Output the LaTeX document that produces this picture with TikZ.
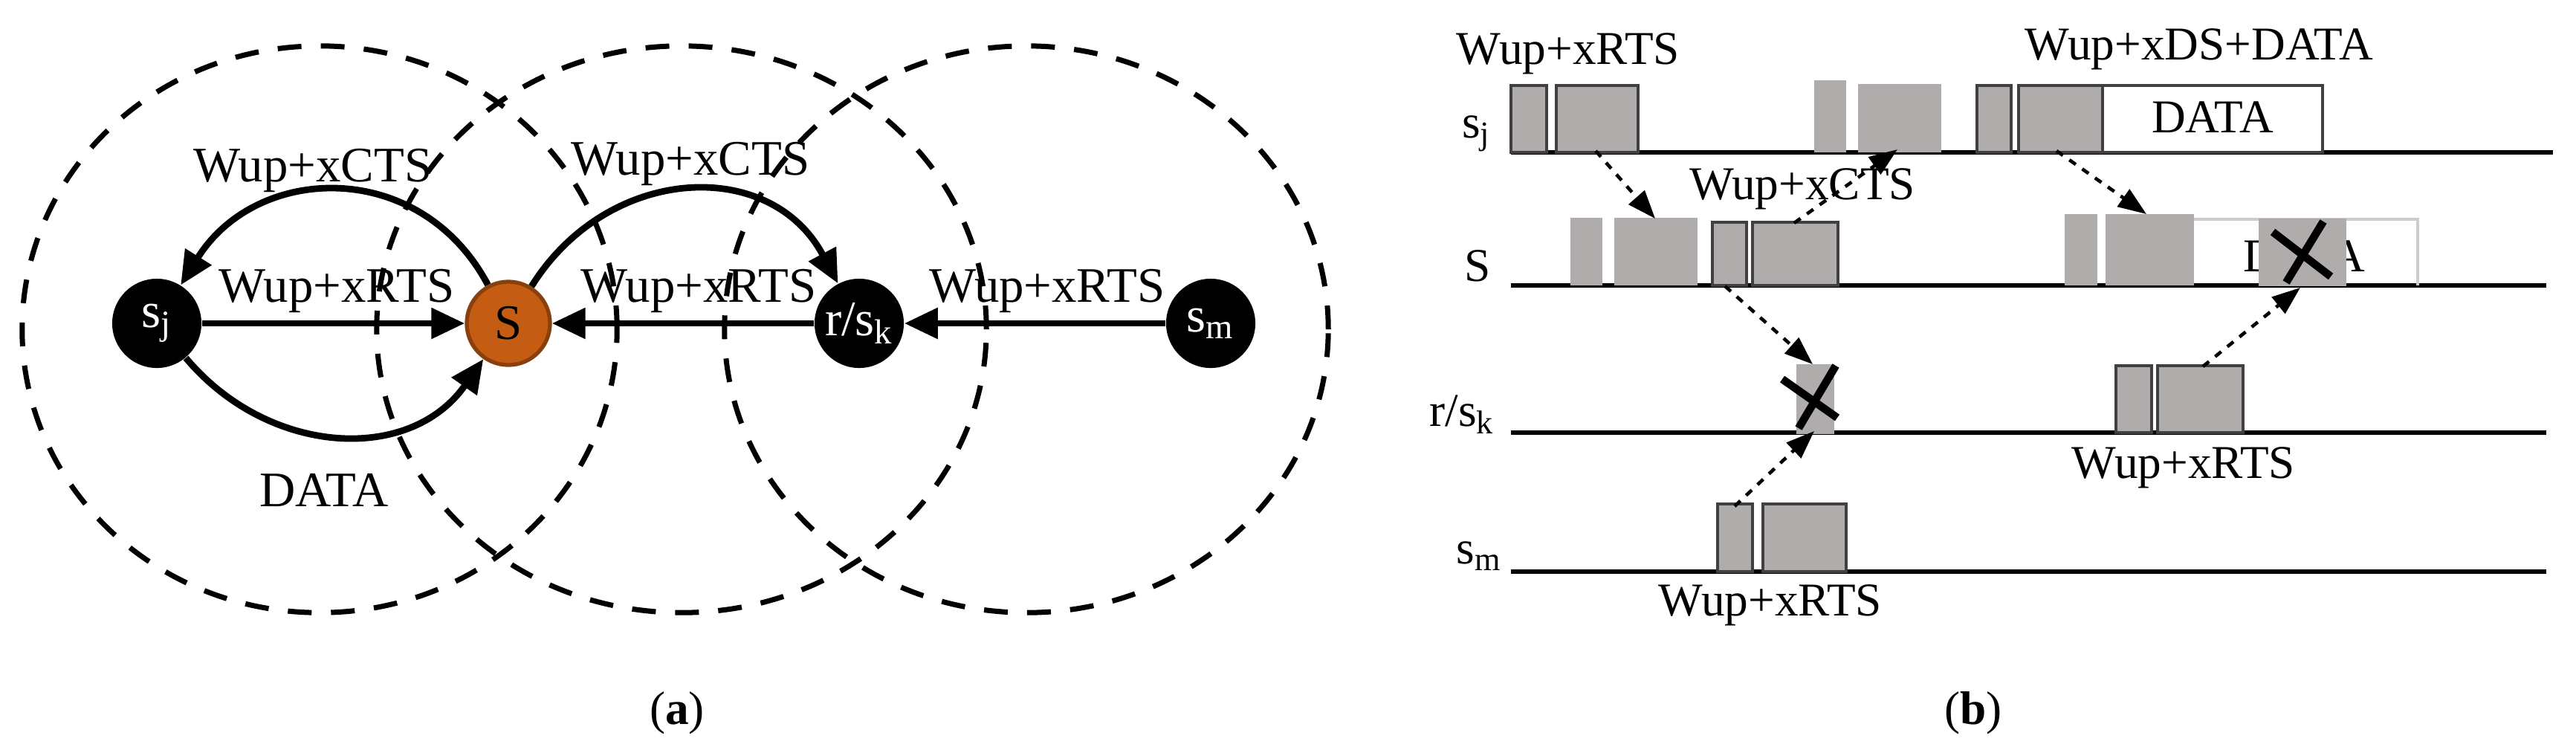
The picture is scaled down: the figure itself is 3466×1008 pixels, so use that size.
\documentclass[tikz,border=0pt]{standalone}
\usepackage{fontspec}
\setmainfont{Liberation Serif}
\usetikzlibrary{arrows.meta}
\definecolor{slotgray}{HTML}{B0ACAB}
\definecolor{nodeorange}{HTML}{C45C13}
\tikzset{
  station/.style={circle,fill=black,text=white,minimum size=1.2cm,inner sep=0pt},
  cover/.style={line width=0.7mm,dash pattern=on 3.2mm off 2.6mm},
  link/.style={line width=2.5pt,-{Triangle[length=0.45cm,width=0.4cm]}},
  msg/.style={dashed,line width=1.3pt,-{Triangle[length=0.38cm,width=0.28cm]}},
  slot/.style={fill=slotgray,draw=black!75,line width=1.2pt},
  bare/.style={fill=slotgray},
  txt/.style={font=\fontsize{18pt}{20pt}\selectfont,inner sep=1pt},
  lane/.style={line width=1.6pt},
  cross/.style={line width=3pt},
}
\begin{document}
\begin{tikzpicture}[x=0.01cm,y=-0.01cm]
\useasboundingbox (0,0) rectangle (3466,1008);
% ranges
\draw[cover] (430,443) ellipse (4cm and 3.81cm);
\draw[cover] (917,443) ellipse (4.1cm and 3.81cm);
\draw[cover] (1381,443) ellipse (4.06cm and 3.81cm);
% stations
\node[station] (sj) at (211,435) {\fontsize{19pt}{20pt}\selectfont s\textsubscript{j}};
\node[station,fill=nodeorange,draw=nodeorange!70!black,line width=1.5pt,text=black,minimum size=1.12cm] (s) at (684,435) {\fontsize{19pt}{20pt}\selectfont S};
\node[station] (rsk) at (1156,435) {\fontsize{19pt}{20pt}\selectfont r/s\textsubscript{k}};
\node[station] (sm) at (1629,435) {\fontsize{19pt}{20pt}\selectfont s\textsubscript{m}};
% links
\draw[link] (sj) -- (s);
\draw[link] (rsk) -- (s);
\draw[link] (sm) -- (rsk);
\draw[link] (s) to[out=118,in=58,looseness=1.2] (sj);
\draw[link] (sj) to[out=-50,in=-125,looseness=1.1] (s);
\draw[link] (s) to[out=58,in=118,looseness=1.2] (rsk);
% labels
\node[txt,font=\fontsize{19pt}{20pt}\selectfont] (ctsa) at (421,229) {Wup+xCTS};
\node[txt,font=\fontsize{19pt}{20pt}\selectfont] (ctsb) at (929,220) {Wup+xCTS};
\node[txt,font=\fontsize{19pt}{20pt}\selectfont] (rtsa) at (453,391) {Wup+xRTS};
\node[txt,font=\fontsize{19pt}{20pt}\selectfont] (rtsb) at (940,391) {Wup+xRTS};
\node[txt,font=\fontsize{19pt}{20pt}\selectfont] (rtsc) at (1409,391) {Wup+xRTS};
\node[txt,font=\fontsize{19pt}{20pt}\selectfont] (data) at (436,659) {DATA};
\node[txt] (capa) at (911,959) {(\textbf{a})};
\node[txt] (capb) at (2655,959) {(\textbf{b})};
% lanes
\draw[lane] (2033,205) -- (3435,205);
\draw[lane] (2033,384) -- (3426,384);
\draw[lane] (2033,582) -- (3426,582);
\draw[lane] (2033,769) -- (3426,769);
\node[txt,anchor=east] (lj) at (2010,180) {s\textsubscript{j}};
\node[txt,anchor=east] (ls) at (2010,358) {S};
\node[txt,anchor=east] (lk) at (2015,558) {r/s\textsubscript{k}};
\node[txt,anchor=east] (lm) at (2025,748) {s\textsubscript{m}};
% slots on s_j
\draw[slot] (2033,115) rectangle (2081,205);
\draw[slot] (2094,115) rectangle (2204,205);
\fill[bare] (2441,108) rectangle (2484,205);
\fill[bare] (2500,113) rectangle (2612,205);
\draw[slot] (2660,115) rectangle (2706,205);
\draw[slot] (2716,115) rectangle (2829,205);
\draw[draw=black!75,line width=1.2pt,fill=white] (2829,115) rectangle (3125,205);
\node[txt] (dj) at (2977,158) {DATA};
\node[txt] (rtsj) at (2110,72) {Wup+xRTS};
\node[txt] (dsj) at (2959,66) {Wup+xDS+DATA};
% slots on S
\fill[bare] (2113,293) rectangle (2156,384);
\fill[bare] (2172,293) rectangle (2284,384);
\draw[slot] (2304,299) rectangle (2350,384);
\draw[slot] (2358,299) rectangle (2473,384);
\fill[bare] (2778,288) rectangle (2822,384);
\fill[bare] (2833,288) rectangle (2952,384);
\draw[draw=black!20,line width=1.2pt] (2952,295) -- (3253,295) -- (3253,384);
\node[txt] (ds) at (3100,345) {DATA};
\fill[bare] (3039,294) rectangle (3157,385);
\node[txt] (ctss) at (2425,254) {Wup+xCTS};
% slots on r/s_k
\fill[bare] (2417,490) rectangle (2468,584);
\draw[slot] (2847,492) rectangle (2895,582);
\draw[slot] (2903,492) rectangle (3018,582);
\node[txt] (rtsk) at (2938,629) {Wup+xRTS};
% slots on s_m
\draw[slot] (2311,678) rectangle (2358,769);
\draw[slot] (2372,678) rectangle (2484,769);
\node[txt] (rtsm) at (2382,814) {Wup+xRTS};
% crosses
\draw[cross] (2398,510) -- (2472,562);
\draw[cross] (2470,492) -- (2420,576);
\draw[cross] (3058,312) -- (3136,372);
\draw[cross] (3126,298) -- (3076,380);
% messages
\coordinate (m1a) at (2147,203); \coordinate (m1b) at (2227,294);
\coordinate (m2a) at (2414,300); \coordinate (m2b) at (2553,201);
\coordinate (m3a) at (2767,203); \coordinate (m3b) at (2888,288);
\coordinate (m4a) at (2321,385); \coordinate (m4b) at (2439,490);
\coordinate (m5a) at (2334,681); \coordinate (m5b) at (2441,580);
\coordinate (m6a) at (2964,493); \coordinate (m6b) at (3095,387);
\foreach \i in {1,...,6}
  \draw[msg] (m\i a) -- (m\i b);
\end{tikzpicture}
\end{document}
